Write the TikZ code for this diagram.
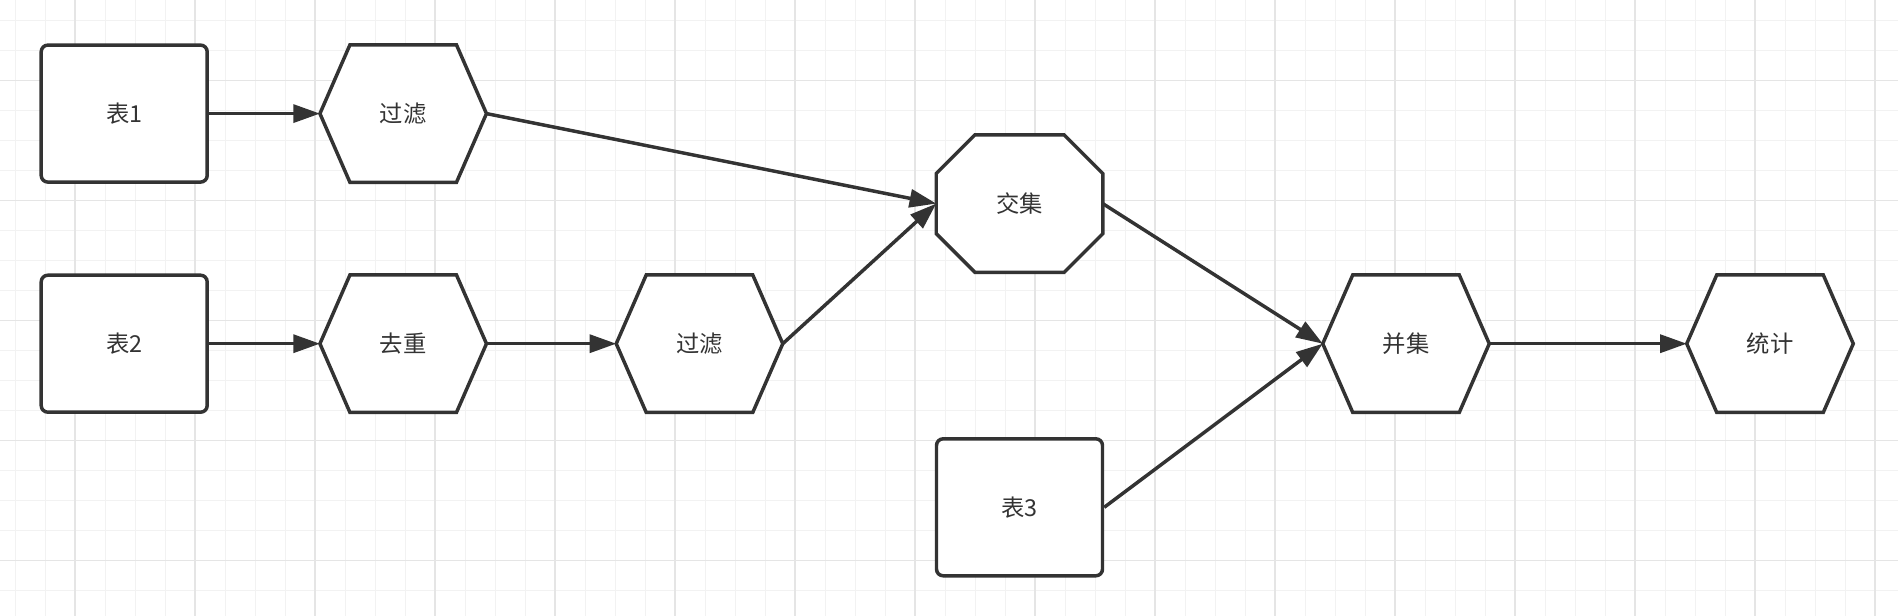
\documentclass[tikz,border=0pt]{standalone}
\usepackage{fontspec}
\setmainfont{Noto Sans CJK SC}
\usetikzlibrary{arrows.meta}

\definecolor{inkgray}{HTML}{333333}
\definecolor{gridminor}{RGB}{242,242,242}
\definecolor{gridmajor}{RGB}{229,229,229}

\pgfdeclarelayer{grid}
\pgfdeclarelayer{shapes}
\pgfsetlayers{grid,shapes,main}

\tikzset{
  label font/.style={text=inkgray, font=\fontsize{17.5}{21}\selectfont},
  box/.style={label font, draw=inkgray, line width=2.6pt, fill=white, rounded corners=5pt,
    minimum width=124.5pt, minimum height=102.75pt, inner sep=0pt},
  op/.style={label font, minimum width=124.5pt, minimum height=102.75pt, inner sep=0pt},
  outline/.style={draw=inkgray, line width=2.6pt, fill=white, line join=miter},
  flow/.style={draw=inkgray, line width=2.6pt, -{Triangle[length=20pt,width=13.5pt]}},
}

\begin{document}
\begin{tikzpicture}[x=0.75pt,y=0.75pt,yscale=-1,xscale=1]
    \useasboundingbox (0,0) rectangle (1898,616);
    % Grid
    \begin{pgfonlayer}{grid}
    \fill[white] (0,0) rectangle (1898,616);
    \foreach \gx in {15,45,...,1898} \draw[gridminor, line width=0.75pt] (\gx,0) -- (\gx,616);
    \foreach \gy in {20.7,50.7,...,616} \draw[gridminor, line width=0.75pt] (0,\gy) -- (1898,\gy);
    \foreach \gx in {75,195,...,1898} \draw[gridmajor, line width=1.1pt] (\gx,0) -- (\gx,616);
    \foreach \gy in {80.7,200.7,...,616} \draw[gridmajor, line width=1.1pt] (0,\gy) -- (1898,\gy);
    \end{pgfonlayer}

    % Tables
    \node[box] (t1) at (124.2,113.6) {表1};
    \node[box] (t2) at (124.2,343.7) {表2};
    \node[box] (t3) at (1019.5,507.3) {表3};
    % Operations
    \node[op] (f1) at (403.2,113.6) {过滤};
    \node[op] (dd) at (403.2,343.7) {去重};
    \node[op] (f2) at (699.5,343.7) {过滤};
    \node[op] (oc) at (1019.5,203.6) {交集};
    \node[op] (un) at (1406,343.7) {并集};
    \node[op] (st) at (1770,343.7) {统计};

    % Hexagons and octagon (yshift is flipped by yscale=-1)
    \begin{pgfonlayer}{shapes}
    \foreach \n in {f1,dd,f2,un,st}
      \draw[outline] ([xshift=22.5pt]\n.north west) -- ([xshift=-22.5pt]\n.north east) -- (\n.east)
        -- ([xshift=-22.5pt]\n.south east) -- ([xshift=22.5pt]\n.south west) -- (\n.west) -- cycle;
    \draw[outline] ([xshift=29pt]oc.north west) -- ([xshift=-29pt]oc.north east)
      -- ([yshift=29pt]oc.north east) -- ([yshift=-29pt]oc.south east)
      -- ([xshift=-29pt]oc.south east) -- ([xshift=29pt]oc.south west)
      -- ([yshift=-29pt]oc.south west) -- ([yshift=29pt]oc.north west) -- cycle;
    \end{pgfonlayer}

    % Connectors
    \draw[flow] (t1.east) -- (f1.west);
    \draw[flow] (t2.east) -- (dd.west);
    \draw[flow] (dd.east) -- (f2.west);
    \draw[flow] (f1.east) -- (oc.west);
    \draw[flow] (f2.east) -- (oc.west);
    \draw[flow] (oc.east) -- (un.west);
    \draw[flow] (t3.east) -- (un.west);
    \draw[flow] (un.east) -- (st.west);
\end{tikzpicture}
\end{document}
